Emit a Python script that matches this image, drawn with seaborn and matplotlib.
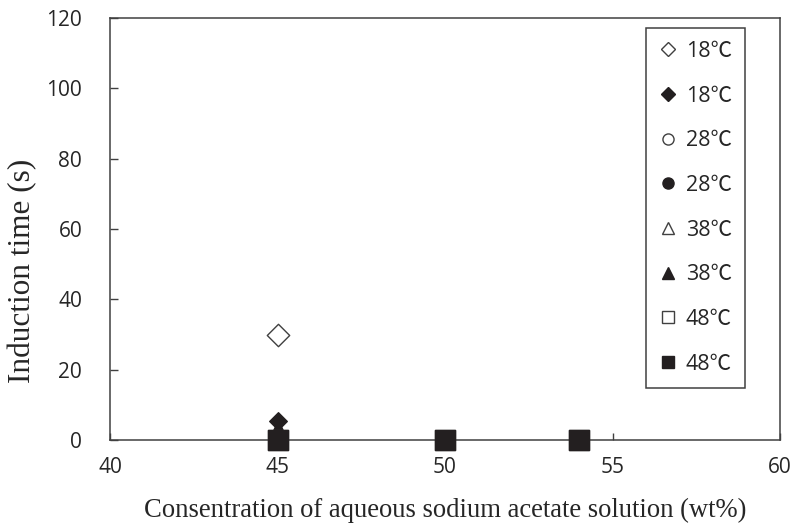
import matplotlib
matplotlib.use("Agg")
import matplotlib.pyplot as plt
from matplotlib.lines import Line2D
import seaborn as sns
import pandas as pd

# ---- data ----
labels = ["18℃", "18℃", "28℃", "28℃", "38℃", "38℃", "48℃", "48℃"]
markers = ["D", "D", "o", "o", "^", "^", "s", "s"]
filled = [False, True, False, True, False, True, False, True]
conc_18_open = [45]
time_18_open = [30]
conc_18_fill = [45]
time_18_fill = [5.5]
conc_28_open = [45]
time_28_open = [0]
conc_28_fill = [45]
time_28_fill = [0]
conc_38_open = [45]
time_38_open = [0]
conc_38_fill = [45]
time_38_fill = [3.5]
conc_48_open = [45, 50, 54]
time_48_open = [0, 0, 0]
conc_48_fill = [45, 50, 54]
time_48_fill = [0, 0, 0]
x_ticks = [40, 45, 50, 55, 60]
y_ticks = [0, 20, 40, 60, 80, 100, 120]

series_x = [conc_18_open, conc_18_fill, conc_28_open, conc_28_fill,
            conc_38_open, conc_38_fill, conc_48_open, conc_48_fill]
series_y = [time_18_open, time_18_fill, time_28_open, time_28_fill,
            time_38_open, time_38_fill, time_48_open, time_48_fill]

sns.set_theme(style="white")
plt.rcParams["font.family"] = ["Open Sans", "Noto Sans CJK JP", "DejaVu Sans"]

W, H = 793, 527
fig = plt.figure(figsize=(W / 100, H / 100), dpi=100)
ax = fig.add_axes([110 / W, (H - 440) / H, 670 / W, 422 / H])

dark = "#231f20"
edge = "#404040"
sizes = {"D": 130, "o": 110, "^": 120, "s": 200}
for i in range(len(labels)):
    df = pd.DataFrame({"x": series_x[i], "y": series_y[i]})
    m = markers[i]
    s = sizes[m]
    if m == "D" and filled[i]:
        s = 80
    sns.scatterplot(data=df, x="x", y="y", ax=ax, marker=m, s=s,
                    facecolor=dark if filled[i] else "white",
                    edgecolor=dark if filled[i] else edge,
                    linewidth=1.0, zorder=3 + i, clip_on=False, legend=False)

ax.set_xlim(40, 60)
ax.set_ylim(0, 120)
ax.set_xticks(x_ticks)
ax.set_yticks(y_ticks)
ax.set_xticklabels([str(v) for v in x_ticks])
ax.set_yticklabels([str(v) for v in y_ticks])
ax.tick_params(axis="both", direction="in", colors="#404040", labelcolor="#262626",
               labelsize=15, width=1.0)
ax.tick_params(axis="x", length=5, pad=12, bottom=True)
ax.tick_params(axis="y", length=5.5, pad=20, left=True)
for sp in ax.spines.values():
    sp.set_color("#404040")
    sp.set_linewidth(1.1)
ax.set_xlabel("")
ax.set_ylabel("")

fig.text(445 / W, 1 - 510 / H, "Consentration of aqueous sodium acetate solution (wt%)",
         family="Liberation Serif", fontsize=19.2, color="#262626",
         ha="center", va="center")
fig.text(23 / W, 1 - 271 / H, "Induction time (s)",
         family="Liberation Serif", fontsize=22.5, color="#262626",
         ha="center", va="center", rotation=90)

handles = []
for i in range(len(labels)):
    handles.append(Line2D([], [], linestyle="none", marker=markers[i],
                          markersize=8 if markers[i] != "D" else 7,
                          markerfacecolor=dark if filled[i] else "white",
                          markeredgecolor=dark if filled[i] else edge,
                          markeredgewidth=1.0))
leg = ax.legend(handles, labels, loc="upper left",
                bbox_to_anchor=((646 - 110) / 670, (440 - 28) / 422),
                frameon=True, fancybox=False, framealpha=1, edgecolor="#404040",
                fontsize=15.5, labelspacing=1.1, handlelength=0.8, handletextpad=0.45,
                borderpad=0.6, borderaxespad=0)
leg.get_frame().set_linewidth(1.1)
for t in leg.get_texts():
    t.set_color("#262626")

fig.savefig("out.png", dpi=100)
